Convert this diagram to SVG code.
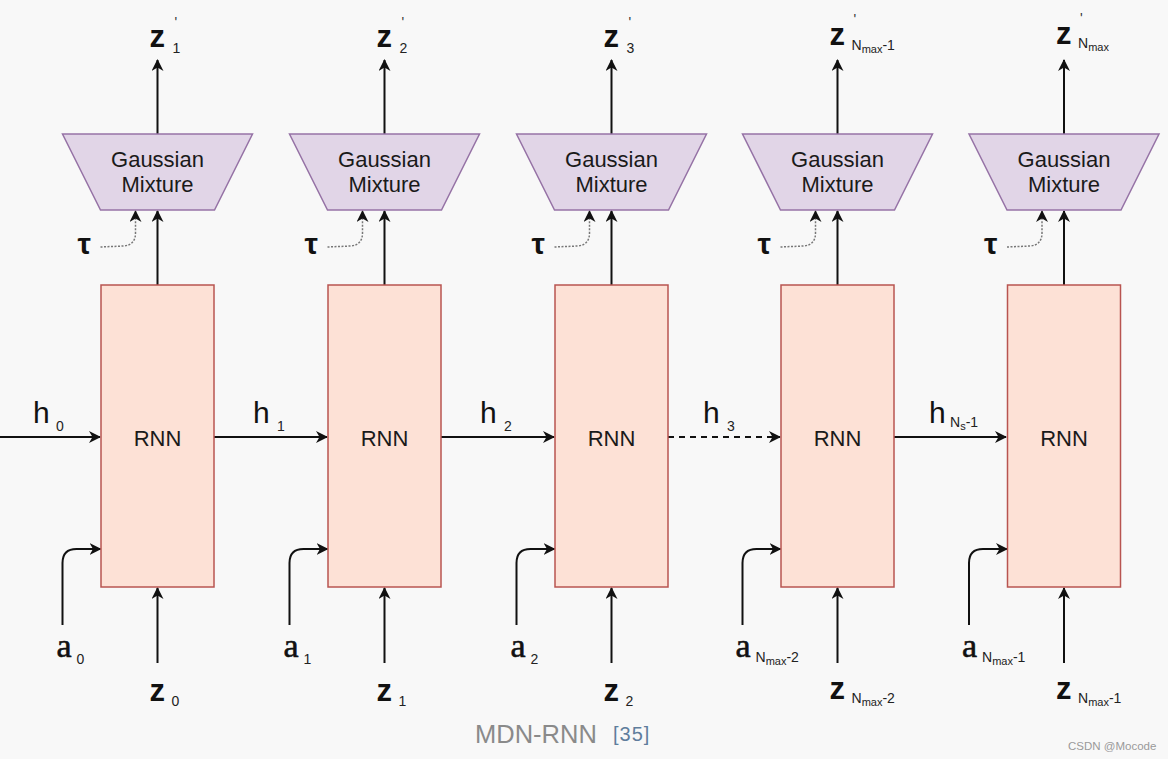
<svg xmlns="http://www.w3.org/2000/svg" width="1168" height="759" viewBox="0 0 1168 759">
<style>
.rnn{fill:#fde1d6;stroke:#b85450;stroke-width:1.5}
.gm{fill:#e1d5e7;stroke:#9673a6;stroke-width:1.5}
.gt,.rt{font-family:"Liberation Sans",Arial,sans-serif;font-size:22px;fill:#1a1a1a;text-anchor:middle}
.ln{fill:none;stroke:#111;stroke-width:2;marker-end:url(#ah)}
.dash{stroke-dasharray:6 5}
.dot{fill:none;stroke:#777;stroke-width:1.5;stroke-dasharray:2 1.5;marker-end:url(#ah)}
.z{font-family:"Liberation Sans",Arial,sans-serif;font-weight:bold;font-size:31px;fill:#111}
.h{font-family:"Liberation Sans",Arial,sans-serif;font-size:30px;fill:#111}
.a{font-family:"Liberation Serif","Times New Roman",serif;font-size:34px;fill:#111;stroke:#111;stroke-width:0.6}
.tau{font-family:"Liberation Sans",Arial,sans-serif;font-weight:bold;font-size:30px;fill:#111}
.s{font-family:"Liberation Sans",Arial,sans-serif;font-size:14px;fill:#222}
.ss{font-size:11px}
.pr{font-family:"Liberation Sans",Arial,sans-serif;font-size:14px;fill:#333}
</style>
<defs>
<marker id="ah" viewBox="0 0 12 12" refX="11" refY="6" markerWidth="12" markerHeight="12" markerUnits="userSpaceOnUse" orient="auto">
<path d="M0,0 L12,6 L0,12 L3.5,6 Z" fill="#111"/>
</marker>
</defs>
<rect width="1168" height="759" fill="#f8f8f8"/>

<g id="connectors">
<path class="ln" d="M0,437 L100,437"/>
<path class="ln" d="M214,437 L327,437"/>
<path class="ln" d="M441,437 L554,437"/>
<path class="ln dash" d="M668,437 L780,437"/>
<path class="ln" d="M894,437 L1006,437"/>
<g transform="translate(157.5,0)">
<path class="ln" d="M0,285 L0,211"/><path class="ln" d="M0,134 L0,60"/>
<path class="dot" d="M-57,247 L-34,246 Q-22,245 -22,233 L-22,211"/>
<path class="ln" d="M-95,625 L-95,563 Q-95,549 -81,549 L-57,549"/>
<path class="ln" d="M0,663 L0,588"/>
</g>
<g transform="translate(384.5,0)">
<path class="ln" d="M0,285 L0,211"/><path class="ln" d="M0,134 L0,60"/>
<path class="dot" d="M-57,247 L-34,246 Q-22,245 -22,233 L-22,211"/>
<path class="ln" d="M-95,625 L-95,563 Q-95,549 -81,549 L-57,549"/>
<path class="ln" d="M0,663 L0,588"/>
</g>
<g transform="translate(611.5,0)">
<path class="ln" d="M0,285 L0,211"/><path class="ln" d="M0,134 L0,60"/>
<path class="dot" d="M-57,247 L-34,246 Q-22,245 -22,233 L-22,211"/>
<path class="ln" d="M-95,625 L-95,563 Q-95,549 -81,549 L-57,549"/>
<path class="ln" d="M0,663 L0,588"/>
</g>
<g transform="translate(837.5,0)">
<path class="ln" d="M0,285 L0,211"/><path class="ln" d="M0,134 L0,60"/>
<path class="dot" d="M-57,247 L-34,246 Q-22,245 -22,233 L-22,211"/>
<path class="ln" d="M-95,625 L-95,563 Q-95,549 -81,549 L-57,549"/>
<path class="ln" d="M0,663 L0,588"/>
</g>
<g transform="translate(1064,0)">
<path class="ln" d="M0,285 L0,211"/><path class="ln" d="M0,134 L0,60"/>
<path class="dot" d="M-57,247 L-34,246 Q-22,245 -22,233 L-22,211"/>
<path class="ln" d="M-95,625 L-95,563 Q-95,549 -81,549 L-57,549"/>
<path class="ln" d="M0,663 L0,588"/>
</g>
</g>

<!-- Column 1 -->
<g id="gm1" transform="translate(157.5,0)"><polygon class="gm" points="-95,134 95,134 57,210 -57,210"/><text class="gt" x="0" y="167">Gaussian</text><text class="gt" x="0" y="192">Mixture</text></g>
<g id="rnn1" transform="translate(157.5,0)"><rect class="rnn" x="-56.5" y="285" width="113" height="302"/><text class="rt" x="0" y="446">RNN</text></g>
<g id="zout1" transform="translate(157.5,0)"><text class="z" x="-8" y="47">z</text><text class="pr" x="17" y="27">'</text><text class="s" x="15" y="53">1</text></g>
<g id="tau1" transform="translate(157.5,0)"><text class="tau" x="-80" y="254">τ</text></g>
<g id="ain1" transform="translate(157.5,0)"><text class="a" x="-101" y="657">a</text><text class="s" x="-81" y="664">0</text></g>
<g id="zin1" transform="translate(157.5,0)"><text class="z" x="-8" y="701">z</text><text class="s" x="14" y="706">0</text></g>

<!-- Column 2 -->
<g id="gm2" transform="translate(384.5,0)"><polygon class="gm" points="-95,134 95,134 57,210 -57,210"/><text class="gt" x="0" y="167">Gaussian</text><text class="gt" x="0" y="192">Mixture</text></g>
<g id="rnn2" transform="translate(384.5,0)"><rect class="rnn" x="-56.5" y="285" width="113" height="302"/><text class="rt" x="0" y="446">RNN</text></g>
<g id="zout2" transform="translate(384.5,0)"><text class="z" x="-8" y="47">z</text><text class="pr" x="17" y="27">'</text><text class="s" x="15" y="53">2</text></g>
<g id="tau2" transform="translate(384.5,0)"><text class="tau" x="-80" y="254">τ</text></g>
<g id="ain2" transform="translate(384.5,0)"><text class="a" x="-101" y="657">a</text><text class="s" x="-81" y="664">1</text></g>
<g id="zin2" transform="translate(384.5,0)"><text class="z" x="-8" y="701">z</text><text class="s" x="14" y="706">1</text></g>

<!-- Column 3 -->
<g id="gm3" transform="translate(611.5,0)"><polygon class="gm" points="-95,134 95,134 57,210 -57,210"/><text class="gt" x="0" y="167">Gaussian</text><text class="gt" x="0" y="192">Mixture</text></g>
<g id="rnn3" transform="translate(611.5,0)"><rect class="rnn" x="-56.5" y="285" width="113" height="302"/><text class="rt" x="0" y="446">RNN</text></g>
<g id="zout3" transform="translate(611.5,0)"><text class="z" x="-8" y="47">z</text><text class="pr" x="17" y="27">'</text><text class="s" x="15" y="53">3</text></g>
<g id="tau3" transform="translate(611.5,0)"><text class="tau" x="-80" y="254">τ</text></g>
<g id="ain3" transform="translate(611.5,0)"><text class="a" x="-101" y="657">a</text><text class="s" x="-81" y="664">2</text></g>
<g id="zin3" transform="translate(611.5,0)"><text class="z" x="-8" y="701">z</text><text class="s" x="14" y="706">2</text></g>

<!-- Column 4 -->
<g id="gm4" transform="translate(837.5,0)"><polygon class="gm" points="-95,134 95,134 57,210 -57,210"/><text class="gt" x="0" y="167">Gaussian</text><text class="gt" x="0" y="192">Mixture</text></g>
<g id="rnn4" transform="translate(837.5,0)"><rect class="rnn" x="-56.5" y="285" width="113" height="302"/><text class="rt" x="0" y="446">RNN</text></g>
<g id="zout4" transform="translate(837.5,0)"><text class="z" x="-8" y="45">z</text><text class="pr" x="16" y="24">'</text><text class="s" x="14" y="50">N<tspan class="ss" dy="3">max</tspan><tspan dy="-3">-1</tspan></text></g>
<g id="tau4" transform="translate(837.5,0)"><text class="tau" x="-80" y="254">τ</text></g>
<g id="ain4" transform="translate(837.5,0)"><text class="a" x="-102" y="657">a</text><text class="s" x="-82" y="662">N<tspan class="ss" dy="3">max</tspan><tspan dy="-3">-2</tspan></text></g>
<g id="zin4" transform="translate(837.5,0)"><text class="z" x="-8" y="699">z</text><text class="s" x="14" y="703">N<tspan class="ss" dy="3">max</tspan><tspan dy="-3">-2</tspan></text></g>

<!-- Column 5 -->
<g id="gm5" transform="translate(1064,0)"><polygon class="gm" points="-95,134 95,134 57,210 -57,210"/><text class="gt" x="0" y="167">Gaussian</text><text class="gt" x="0" y="192">Mixture</text></g>
<g id="rnn5" transform="translate(1064,0)"><rect class="rnn" x="-56.5" y="285" width="113" height="302"/><text class="rt" x="0" y="446">RNN</text></g>
<g id="zout5" transform="translate(1064,0)"><text class="z" x="-8" y="44">z</text><text class="pr" x="16" y="23">'</text><text class="s" x="14" y="48">N<tspan class="ss" dy="3">max</tspan></text></g>
<g id="tau5" transform="translate(1064,0)"><text class="tau" x="-80" y="254">τ</text></g>
<g id="ain5" transform="translate(1064,0)"><text class="a" x="-102" y="657">a</text><text class="s" x="-82" y="662">N<tspan class="ss" dy="3">max</tspan><tspan dy="-3">-1</tspan></text></g>
<g id="zin5" transform="translate(1064,0)"><text class="z" x="-8" y="699">z</text><text class="s" x="14" y="703">N<tspan class="ss" dy="3">max</tspan><tspan dy="-3">-1</tspan></text></g>

<!-- hidden state labels -->
<g id="h0"><text class="h" x="33" y="423">h</text><text class="s" x="56" y="431">0</text></g>
<g id="h1"><text class="h" x="253" y="423">h</text><text class="s" x="277" y="431">1</text></g>
<g id="h2"><text class="h" x="480" y="423">h</text><text class="s" x="504" y="431">2</text></g>
<g id="h3"><text class="h" x="703" y="423">h</text><text class="s" x="727" y="431">3</text></g>
<g id="hN"><text class="h" x="929" y="423">h</text><text class="s" x="950" y="427">N<tspan class="ss" dy="3">s</tspan><tspan dy="-3">-1</tspan></text></g>

<g id="caption"><text x="475" y="743" font-family="Liberation Sans, Arial, sans-serif" font-size="25.5px" fill="#8a8a8a">MDN-RNN</text><text x="613" y="741" font-family="Liberation Sans, Arial, sans-serif" font-size="20px" fill="#5f7d9c" letter-spacing="1">[35]</text></g>
<g id="watermark"><text x="1068" y="750" font-family="Liberation Sans, Arial, sans-serif" font-size="11.5px" fill="#9a9a9a">CSDN @Mocode</text></g>
</svg>
